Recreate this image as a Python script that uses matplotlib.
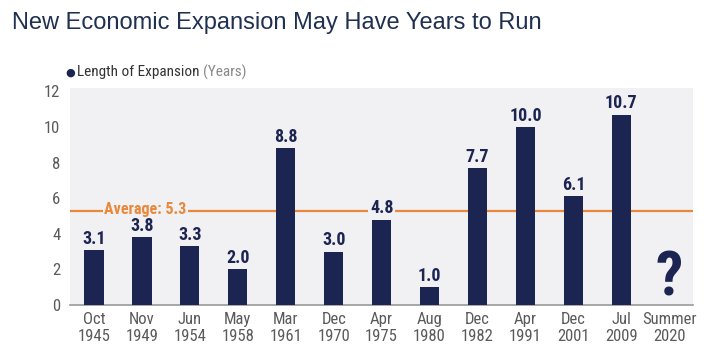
import matplotlib.pyplot as plt

# data
periods = ['Oct\n1945', 'Nov\n1949', 'Jun\n1954', 'May\n1958', 'Mar\n1961', 'Dec\n1970',
           'Apr\n1975', 'Aug\n1980', 'Dec\n1982', 'Apr\n1991', 'Dec\n2001', 'Jul\n2009', 'Summer\n2020']
years = [3.1, 3.8, 3.3, 2.0, 8.8, 3.0, 4.8, 1.0, 7.7, 10.0, 6.1, 10.7]
average = 5.3
yticks = [0, 2, 4, 6, 8, 10, 12]

navy = '#1c2452'
orange = '#e8883a'
bg = '#f1f1f3'
grey = '#5a5a5a'
narrow = 'Roboto Condensed'

fig = plt.figure(figsize=(7.11, 3.53), dpi=100)
ax = fig.add_axes([0.0985, 0.136, 0.8765, 0.615])
ax.set_facecolor(bg)

x = list(range(len(periods)))
ax.bar(x[:len(years)], years, width=0.4, color=navy, zorder=3)

ax.axhline(average, color=orange, lw=1.6, zorder=2)
ax.text(1.07, average + 0.05, 'Average: 5.3', color=orange, fontsize=11.5, fontweight='bold',
        family=narrow, ha='center', va='center', zorder=4,
        bbox=dict(facecolor=bg, edgecolor='none', pad=0.8))

for i, v in enumerate(years):
    kw = {}
    if abs(v - average) < 0.8:
        kw['bbox'] = dict(facecolor=bg, edgecolor='none', pad=1)
    ax.text(i, v + 0.12, f'{v:.1f}', color=navy, fontsize=13, fontweight='bold',
            family=narrow, ha='center', va='bottom', zorder=4, **kw)

ax.text(12, 0.55, '?', color=navy, fontsize=44, fontweight='bold', family=narrow,
        ha='center', va='baseline', zorder=4)

ax.set_xlim(-0.5, 12.5)
ax.set_ylim(0, 12.2)
ax.set_yticks(yticks)
ax.set_xticks(x)
ax.set_xticklabels(periods, family=narrow, fontsize=12, color=grey, linespacing=1.15)
ax.set_yticklabels([str(t) for t in yticks], family=narrow, fontsize=12, color=grey)
ax.tick_params(length=0)
ax.tick_params(axis='y', pad=7)
ax.tick_params(axis='x', pad=5)
for s in ['top', 'right', 'left']:
    ax.spines[s].set_visible(False)
ax.spines['bottom'].set_color('#9a9a9a')
ax.spines['bottom'].set_linewidth(1.2)

fig.text(0.017, 0.935, 'New Economic Expansion May Have Years to Run', color='#1f3050',
         fontsize=17, family='Liberation Sans', va='center')
fig.text(0.099, 0.795, '\u25cf', color=navy, fontsize=8, va='center', ha='center')
t = fig.text(0.108, 0.795, 'Length of Expansion ', color='#333333', fontsize=11,
             family=narrow, va='center')
fig.canvas.draw()
bb = t.get_window_extent()
fig.text(bb.x1 / fig.bbox.width, 0.795, '(Years)', color='#888888', fontsize=11,
         family=narrow, va='center')

fig.savefig('out.png', dpi=100, facecolor='white')
